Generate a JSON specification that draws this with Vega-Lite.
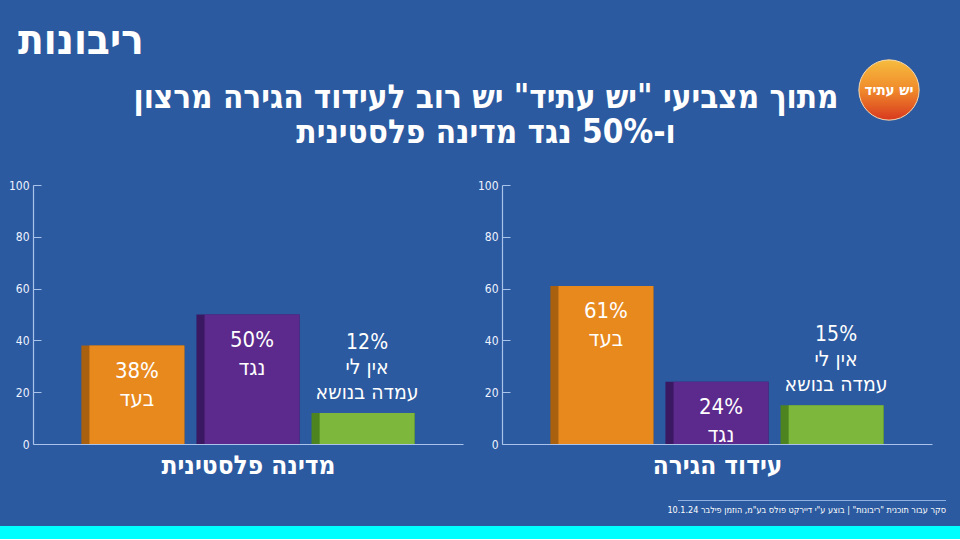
{
  "$schema": "https://vega.github.io/schema/vega-lite/v6.json",
  "background": "#2B5AA0",
  "padding": {"left": 0, "top": 20, "right": 0, "bottom": 0},
  "title": {
    "text": "ריבונות",
    "anchor": "start",
    "frame": "group",
    "dx": 18,
    "fontSize": 42,
    "font": "DejaVu Sans Condensed",
    "fontWeight": "bold",
    "color": "white",
    "offset": -7
  },
  "spacing": 3,
  "vconcat": [
    {
      "spacing": 15,
      "hconcat": [
        {
          "width": 840,
          "height": 120,
          "data": {"values": [{"lines": ["מתוך מצביעי \"יש עתיד\" יש רוב לעידוד הגירה מרצון", "ו-50% נגד מדינה פלסטינית"]}]},
          "mark": {"type": "text", "fontSize": 33, "fontWeight": "bold", "font": "DejaVu Sans Condensed", "color": "white", "lineHeight": 35, "baseline": "middle", "align": "center", "dx": 66, "dy": -18},
          "encoding": {"text": {"field": "lines"}}
        },
        {
          "width": 68,
          "height": 68,
          "data": {"values": [{"logo": "יש עתיד"}]},
          "layer": [
            {
              "mark": {
                "type": "point",
                "filled": true,
                "shape": "circle",
                "size": 3632,
                "opacity": 1,
                "stroke": "#F6D9B0",
                "strokeWidth": 1,
                "fill": {
                  "gradient": "linear",
                  "x1": 0, "y1": 0, "x2": 0, "y2": 1,
                  "stops": [
                    {"offset": 0, "color": "#F6BC3E"},
                    {"offset": 0.5, "color": "#F08A2B"},
                    {"offset": 1, "color": "#D8381E"}
                  ]
                }
              },
              "encoding": {}
            },
            {
              "mark": {"type": "text", "fontSize": 15, "fontWeight": "bold", "font": "DejaVu Sans Condensed", "color": "white", "baseline": "middle"},
              "encoding": {"text": {"field": "logo"}}
            }
          ]
        }
      ]
    },
    {
      "spacing": 22,
      "vconcat": [
        {
          "spacing": 7,
          "hconcat": [
            {
              "width": 1,
              "height": 259,
              "data": {"values": []},
              "mark": {"type": "rect"},
              "encoding": {}
            },
            {
              "spacing": 14,
              "hconcat": [
                {
                  "width": 430,
                  "height": 259,
                  "data": {"values": [
                    {"answer": "בעד", "pct": 38, "label": ["38%", "בעד"]},
                    {"answer": "נגד", "pct": 50, "label": ["50%", "נגד"]},
                    {"answer": "אין לי עמדה בנושא", "pct": 12, "label": ["12%", "אין לי", "עמדה בנושא"]}
                  ]},
                  "encoding": {
                    "x": {"field": "answer", "type": "nominal", "sort": ["בעד", "נגד", "אין לי עמדה בנושא"],
                      "scale": {"paddingInner": 0.104, "paddingOuter": 0.42},
                      "axis": {"title": "מדינה פלסטינית", "labels": false, "ticks": false}},
                    "y": {"field": "pct", "type": "quantitative", "scale": {"domain": [0, 100]},
                      "axis": {"title": null, "values": [0, 20, 40, 60, 80, 100]}}
                  },
                  "layer": [
                    {
                      "mark": {"type": "bar"},
                      "encoding": {"fill": {"field": "answer", "type": "nominal", "legend": null,
                        "scale": {"domain": ["בעד", "נגד", "אין לי עמדה בנושא"], "range": ["#A9600F", "#3A1862", "#4E8420"]}}}
                    },
                    {
                      "mark": {"type": "bar", "width": {"band": 0.92}, "xOffset": 4},
                      "encoding": {"color": {"field": "answer", "type": "nominal", "legend": null,
                        "scale": {"domain": ["בעד", "נגד", "אין לי עמדה בנושא"], "range": ["#E8891E", "#5C2A8C", "#7DB73C"]}}}
                    },
                    {
                      "transform": [{"filter": "datum.answer != 'אין לי עמדה בנושא'"}],
                      "mark": {"type": "text", "baseline": "top", "dy": 15, "dx": 4, "fontSize": 22, "lineHeight": 28, "color": "white", "font": "DejaVu Sans Condensed"},
                      "encoding": {"text": {"field": "label"}}
                    },
                    {
                      "transform": [{"filter": "datum.answer == 'אין לי עמדה בנושא'"}],
                      "mark": {"type": "text", "baseline": "bottom", "dy": -60, "dx": 4, "fontSize": 21, "lineHeight": 25, "color": "white", "font": "DejaVu Sans Condensed"},
                      "encoding": {"text": {"field": "label"}}
                    }
                  ]
                },
                {
                  "width": 430,
                  "height": 259,
                  "data": {"values": [
                    {"answer": "בעד", "pct": 61, "label": ["61%", "בעד"]},
                    {"answer": "נגד", "pct": 24, "label": ["24%", "נגד"]},
                    {"answer": "אין לי עמדה בנושא", "pct": 15, "label": ["15%", "אין לי", "עמדה בנושא"]}
                  ]},
                  "encoding": {
                    "x": {"field": "answer", "type": "nominal", "sort": ["בעד", "נגד", "אין לי עמדה בנושא"],
                      "scale": {"paddingInner": 0.104, "paddingOuter": 0.42},
                      "axis": {"title": "עידוד הגירה", "labels": false, "ticks": false}},
                    "y": {"field": "pct", "type": "quantitative", "scale": {"domain": [0, 100]},
                      "axis": {"title": null, "values": [0, 20, 40, 60, 80, 100]}}
                  },
                  "layer": [
                    {
                      "mark": {"type": "bar"},
                      "encoding": {"fill": {"field": "answer", "type": "nominal", "legend": null,
                        "scale": {"domain": ["בעד", "נגד", "אין לי עמדה בנושא"], "range": ["#A9600F", "#3A1862", "#4E8420"]}}}
                    },
                    {
                      "mark": {"type": "bar", "width": {"band": 0.92}, "xOffset": 4},
                      "encoding": {"color": {"field": "answer", "type": "nominal", "legend": null,
                        "scale": {"domain": ["בעד", "נגד", "אין לי עמדה בנושא"], "range": ["#E8891E", "#5C2A8C", "#7DB73C"]}}}
                    },
                    {
                      "transform": [{"filter": "datum.answer != 'אין לי עמדה בנושא'"}],
                      "mark": {"type": "text", "baseline": "top", "dy": 15, "dx": 4, "fontSize": 22, "lineHeight": 28, "color": "white", "font": "DejaVu Sans Condensed"},
                      "encoding": {"text": {"field": "label"}}
                    },
                    {
                      "transform": [{"filter": "datum.answer == 'אין לי עמדה בנושא'"}],
                      "mark": {"type": "text", "baseline": "bottom", "dy": -60, "dx": 4, "fontSize": 21, "lineHeight": 25, "color": "white", "font": "DejaVu Sans Condensed"},
                      "encoding": {"text": {"field": "label"}}
                    }
                  ]
                }
              ]
            }
          ]
        },
        {
          "spacing": 11,
          "vconcat": [
            {
              "spacing": 20,
              "hconcat": [
                {
                  "width": 647,
                  "height": 1,
                  "data": {"values": []},
                  "mark": {"type": "rect"},
                  "encoding": {}
                },
                {
                  "width": 268,
                  "height": 1,
                  "data": {"values": [{"part": "footer"}]},
                  "mark": {"type": "rect", "color": "#8FB0E0"},
                  "encoding": {},
                  "title": {"text": "סקר עבור תוכנית \"ריבונות\" | בוצע ע\"י דיירקט פולס בע\"מ, הוזמן פילבר 10.1.24", "orient": "bottom", "anchor": "end", "fontSize": 9, "color": "white", "font": "DejaVu Sans Condensed", "offset": 5, "fontWeight": "normal"}
                }
              ]
            },
            {
              "width": 960,
              "height": 13,
              "data": {"values": [{"part": "strip"}]},
              "mark": {"type": "rect", "color": "#00FFFF"},
              "encoding": {}
            }
          ]
        }
      ]
    }
  ],
  "config": {
    "view": {"stroke": null},
    "font": "DejaVu Sans Condensed",
    "axis": {
      "domainColor": "#A9C3EA",
      "domainWidth": 1.2,
      "tickColor": "#A9C3EA",
      "labelColor": "#EEF3FF",
      "labelFont": "DejaVu Sans Condensed",
      "labelFontSize": 12,
      "grid": false,
      "titleColor": "white",
      "titleFont": "DejaVu Sans Condensed",
      "titleFontSize": 26,
      "titleFontWeight": "bold",
      "titlePadding": 8
    },
    "axisY": {"tickSize": -8, "labelPadding": 12}
  }
}
